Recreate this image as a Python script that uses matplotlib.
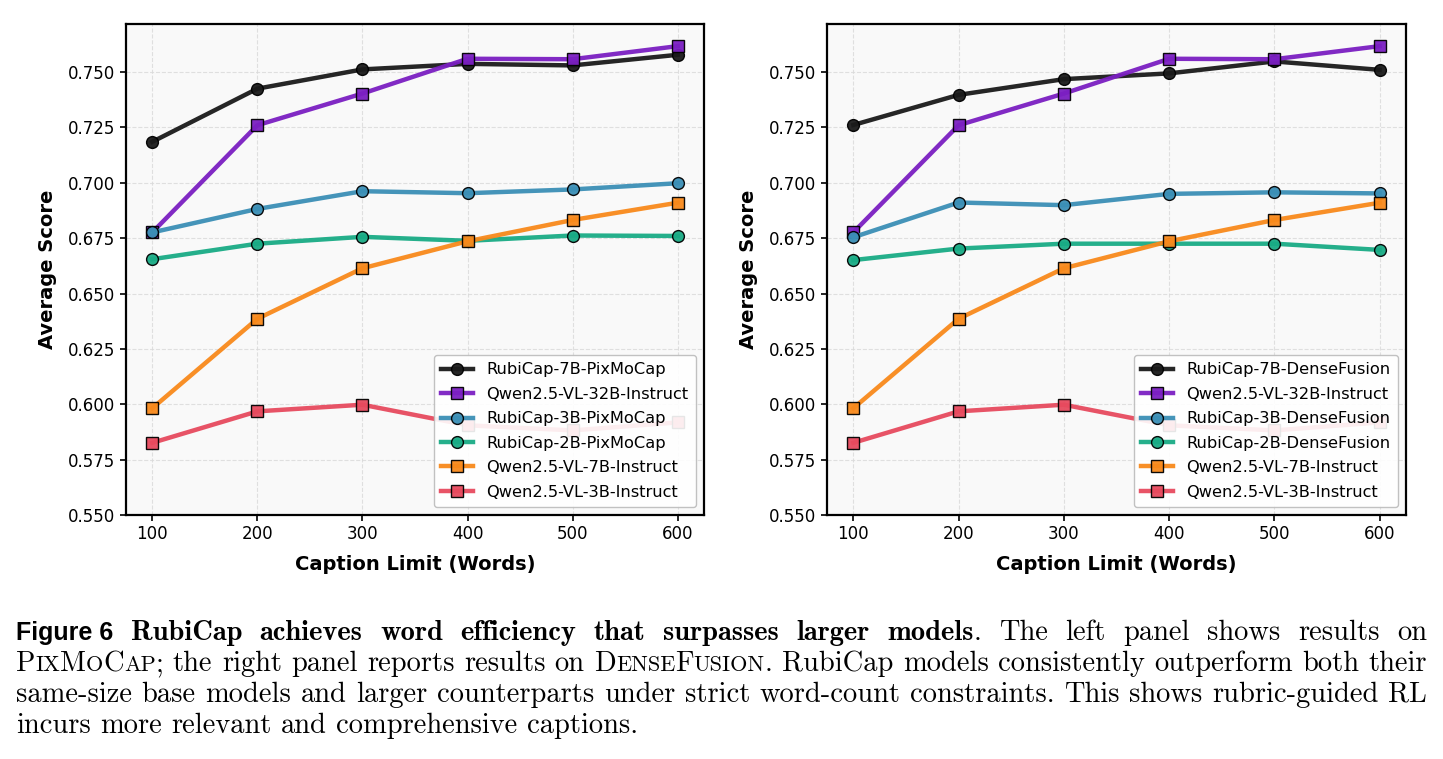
"""Word-budget curves for RubiCap vs Qwen2.5-VL baselines (PixMoCap / DenseFusion)."""
import matplotlib
matplotlib.use("Agg")
import matplotlib.pyplot as plt
from matplotlib.font_manager import FontProperties

plt.rcParams["font.family"] = ["DejaVu Sans"]

W_PX, H_PX, DPI = 1443, 759, 100

# ── data ─────────────────────────────────────────────────────────────────
caption_limits = [100, 200, 300, 400, 500, 600]

# PixMoCap panel
rubicap_7b_pixmo = [0.7185, 0.7425, 0.7512, 0.7537, 0.7530, 0.7578]
rubicap_3b_pixmo = [0.6776, 0.6882, 0.6962, 0.6953, 0.6970, 0.6998]
rubicap_2b_pixmo = [0.6655, 0.6725, 0.6756, 0.6738, 0.6762, 0.6760]

# DenseFusion panel
rubicap_7b_dense = [0.7261, 0.7397, 0.7468, 0.7494, 0.7548, 0.7510]
rubicap_3b_dense = [0.6754, 0.6911, 0.6899, 0.6950, 0.6957, 0.6952]
rubicap_2b_dense = [0.6651, 0.6703, 0.6725, 0.6725, 0.6725, 0.6697]

# base models (same numbers in both panels)
qwen_32b = [0.6776, 0.7260, 0.7403, 0.7560, 0.7558, 0.7617]
qwen_7b = [0.5982, 0.6386, 0.6614, 0.6736, 0.6832, 0.6910]
qwen_3b = [0.5826, 0.5968, 0.5998, 0.5905, 0.5882, 0.5918]

y_ticks = [0.550, 0.575, 0.600, 0.625, 0.650, 0.675, 0.700, 0.725, 0.750]

panels = [
    [
        ("RubiCap-7B-PixMoCap", rubicap_7b_pixmo),
        ("Qwen2.5-VL-32B-Instruct", qwen_32b),
        ("RubiCap-3B-PixMoCap", rubicap_3b_pixmo),
        ("RubiCap-2B-PixMoCap", rubicap_2b_pixmo),
        ("Qwen2.5-VL-7B-Instruct", qwen_7b),
        ("Qwen2.5-VL-3B-Instruct", qwen_3b),
    ],
    [
        ("RubiCap-7B-DenseFusion", rubicap_7b_dense),
        ("Qwen2.5-VL-32B-Instruct", qwen_32b),
        ("RubiCap-3B-DenseFusion", rubicap_3b_dense),
        ("RubiCap-2B-DenseFusion", rubicap_2b_dense),
        ("Qwen2.5-VL-7B-Instruct", qwen_7b),
        ("Qwen2.5-VL-3B-Instruct", qwen_3b),
    ],
]

# style per series slot
colors = ["#1a1a1a", "#7b1fc2", "#3b8fb6", "#19ab85", "#f8891b", "#e74a5e"]
markers = ["o", "s", "o", "o", "s", "s"]

# ── figure ───────────────────────────────────────────────────────────────
fig = plt.figure(figsize=(W_PX / DPI, H_PX / DPI), dpi=DPI)
fig.patch.set_facecolor("white")

axes_px = [(126, 24, 704, 515), (827, 24, 1406, 515)]  # left, top, right, bottom

for (l, t, r, b), series in zip(axes_px, panels):
    ax = fig.add_axes([l / W_PX, 1 - b / H_PX, (r - l) / W_PX, (b - t) / H_PX])
    ax.set_facecolor("#f9f9f9")
    for (label, vals), c, m in zip(series, colors, markers):
        ax.plot(caption_limits, vals, color=c, marker=m, lw=3.2, ms=8.5,
                mec="black", mew=1.0, mfc=c, alpha=0.95, label=label, zorder=3)
    ax.set_xlim(75, 625)
    ax.set_ylim(0.55, 0.7717)
    ax.set_xticks(caption_limits)
    ax.set_yticks(y_ticks)
    ax.set_yticklabels([f"{v:.3f}" for v in y_ticks])
    ax.tick_params(labelsize=12, width=1.2, length=4)
    ax.grid(True, ls="--", lw=0.8, color="#d9d9d9", alpha=0.8, zorder=0)
    for s in ax.spines.values():
        s.set_linewidth(1.6)
        s.set_color("black")
    ax.set_xlabel("Caption Limit (Words)", fontsize=14, fontweight="bold", labelpad=8)
    ax.set_ylabel("Average Score", fontsize=14, fontweight="bold", labelpad=8)
    ax.legend(loc="lower right", fontsize=11.7, framealpha=0.9, edgecolor="#bbbbbb",
              handlelength=2.0, borderpad=0.45, labelspacing=0.58)

# ── caption (justified, drawn word by word) ─────────────────────────────
CAP_PT = 20.5
rm = FontProperties(family="cmr10", size=CAP_PT)
sc = FontProperties(family="cmr10", size=CAP_PT * 0.78)
bf = FontProperties(family="cmb10", size=CAP_PT)
fig_lbl = FontProperties(family="Liberation Sans", weight="bold", size=18)

renderer = fig.canvas.get_renderer()


def text_w(s, fp):
    w, _, _ = renderer.get_text_width_height_descent(s, fp, ismath=False)
    return w


def words_of(s, fp):
    return [[(w, fp)] for w in s.split()]


def draw_line(words, y_base, x0=16, x1=1427, justify=True):
    widths = [sum(text_w(p, fp) for p, fp in w) for w in words]
    n_gaps = len(words) - 1
    natural = 0.33 * CAP_PT * DPI / 72
    if justify:
        gaps = [(x1 - x0 - sum(widths)) / n_gaps] * n_gaps
    else:
        gaps = [natural] * n_gaps
    x = x0
    for i, w in enumerate(words):
        for piece, fp in w:
            fig.text(x / W_PX, 1 - y_base / H_PX, piece, fontproperties=fp,
                     ha="left", va="baseline", color="black")
            x += text_w(piece, fp)
        if i < n_gaps:
            x += gaps[i]


line1 = ([[("Figure 6", fig_lbl)]]
         + words_of("RubiCap achieves word efficiency that surpasses larger", bf)
         + [[("models", bf), (".", rm)]]
         + words_of("The left panel shows results on", rm))
line2 = ([[("P", rm), ("IX", sc), ("M", rm), ("O", sc), ("C", rm), ("AP", sc), (";", rm)]]
         + words_of("the right panel reports results on", rm)
         + [[("D", rm), ("ENSE", sc), ("F", rm), ("USION", sc), (".", rm)]]
         + words_of("RubiCap models consistently outperform both their", rm))
line3 = words_of("same-size base models and larger counterparts under strict "
                 "word-count constraints. This shows rubric-guided RL", rm)
line4 = words_of("incurs more relevant and comprehensive captions.", rm)

draw_line(line1, 640)
draw_line(line2, 671)
draw_line(line3, 702)
draw_line(line4, 733, justify=False)

fig.savefig("out.png", dpi=DPI, facecolor="white")
